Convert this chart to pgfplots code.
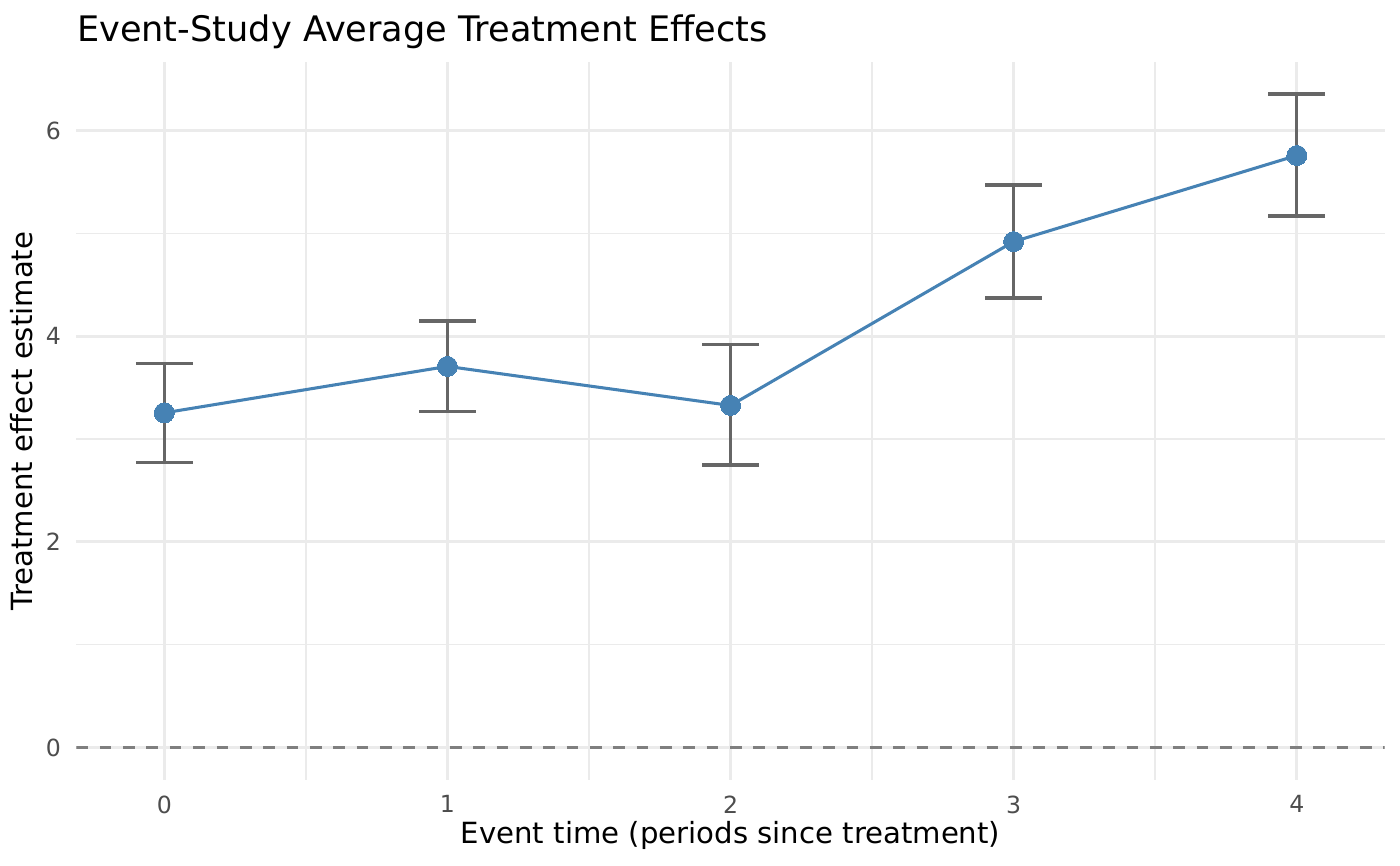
\documentclass[border=0pt]{standalone}
\usepackage{fontspec}
\setmainfont{DejaVu Sans}
\usepackage{pgfplots}
\pgfplotsset{compat=1.18}
\usepackage{pgfplotstable}
\definecolor{grid92}{HTML}{EBEBEB}
\definecolor{grey30}{HTML}{4D4D4D}
\definecolor{grey40}{HTML}{666666}
\definecolor{grey50}{HTML}{7F7F7F}
\definecolor{steelblue}{HTML}{4682B4}
\pgfplotstableread{
x y ep em
0 3.256 0.481 0.480
1 3.708 0.441 0.442
2 3.328 0.594 0.578
3 4.922 0.552 0.549
4 5.760 0.597 0.588
}\att
\begin{document}
\begin{tikzpicture}
\path[use as bounding box] (-27.54pt,-30.6pt) rectangle (476.46pt,280.8pt);
\begin{axis}[
  scale only axis,
  width=470.9pt, height=258.5pt,
  xmin=-0.31, xmax=4.31,
  ymin=-0.316, ymax=6.67,
  axis line style={draw=none},
  major tick length=0pt, minor tick length=0pt,
  xtick={0,1,2,3,4},
  ytick={0,2,4,6},
  minor xtick={0.5,1.5,2.5,3.5},
  minor ytick={1,3,5},
  grid=both,
  major grid style={draw=grid92, line width=1.07pt},
  minor grid style={draw=grid92, line width=0.53pt},
  /pgf/number format/assume math mode=true,
  tick label style={font=\fontsize{8.5}{10}\selectfont, text=grey30},
  xticklabel style={anchor=north, inner sep=0pt, yshift=-5.4pt},
  yticklabel style={anchor=east, inner sep=0pt, xshift=-5.4pt},
  xlabel={Event time (periods since treatment)},
  ylabel={Treatment effect estimate},
  label style={font=\fontsize{10.5}{12.5}\selectfont},
  xlabel style={at={(axis description cs:0.5,-0.089)}, anchor=base, inner sep=0pt},
  ylabel style={at={(axis description cs:-0.0336,0.5)}, anchor=base, inner sep=0pt},
  every axis title shift=0pt,
  title={Event-Study Average Treatment Effects},
  title style={at={(axis description cs:0,1.0279)}, anchor=base west, inner sep=0pt, font=\fontsize{12.65}{15}\selectfont},
  clip=true,
]
\addplot[draw=grey50, line width=1.07pt, dash pattern=on 4.2pt off 4.2pt] coordinates {(-0.31,0) (4.31,0)};
\addplot[draw=none, mark=none, forget plot,
  error bars/.cd, y dir=both, y explicit,
  error bar style={draw=grey40, line width=1.2pt, solid},
  error mark options={rotate=90, mark size=10.19pt, draw=grey40, line width=1.2pt}]
  table[x=x, y=y, y error plus=ep, y error minus=em] {\att};
\addplot[draw=steelblue, line width=1.1pt, mark=*, mark size=3.6pt,
  mark options={draw=steelblue, fill=steelblue, line width=0pt}]
  table[x=x, y=y] {\att};
\end{axis}
\end{tikzpicture}
\end{document}
